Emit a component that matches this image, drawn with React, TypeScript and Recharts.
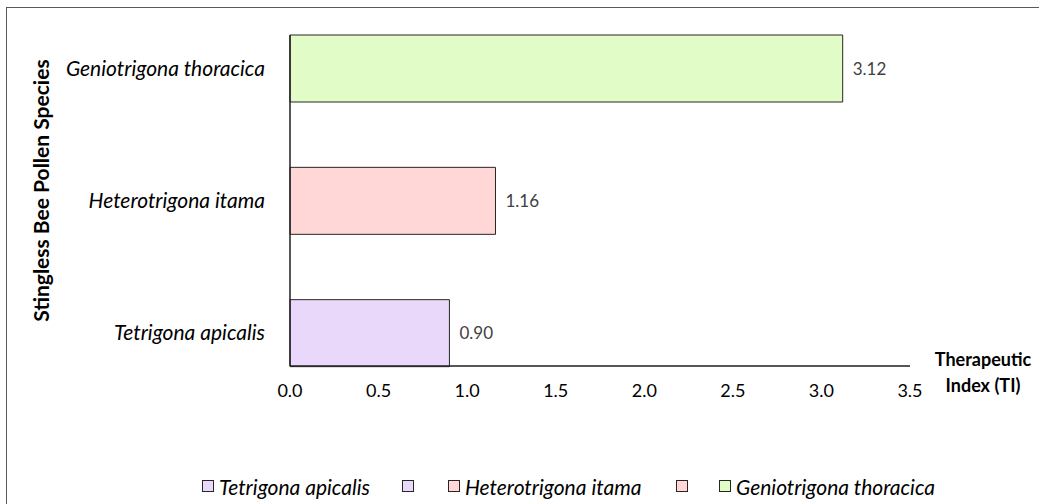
import React from "react";
import {
  BarChart,
  Bar,
  XAxis,
  YAxis,
  Cell,
  LabelList,
} from "recharts";

// bottom-to-top order, as in the picture
const species = ["Tetrigona apicalis", "Heterotrigona itama", "Geniotrigona thoracica"];
const therapeuticIndex = [0.9, 1.16, 3.12];
const barColors = ["#EAD8FB", "#FFD7D7", "#E2FCC7"];
const xTicks = [0, 0.5, 1, 1.5, 2, 2.5, 3, 3.5];

// the legend repeats swatches like the original export does
const legendItems = [
  { color: barColors[0], label: species[0], x: 202 },
  { color: barColors[0], label: "", x: 402 },
  { color: barColors[1], label: species[1], x: 448 },
  { color: barColors[1], label: "", x: 676 },
  { color: barColors[2], label: species[2], x: 719 },
];

const data = species.map((name, i) => ({ name, ti: therapeuticIndex[i] }));

const FONT = "Lato, 'Noto Sans', sans-serif";
const AXIS = "#1f1f1f";

const YTitle = ({ viewBox }: any) => {
  const x = 40;
  const y = viewBox.y + viewBox.height / 2 - 10;
  return (
    <text
      x={x}
      y={y}
      transform={`rotate(-90 ${x} ${y})`}
      textAnchor="middle"
      dominantBaseline="central"
      fontFamily={FONT}
      fontWeight={700}
      fontSize={21}
      fill="#000"
    >
      Stingless Bee Pollen Species
    </text>
  );
};

const XTitle = ({ viewBox }: any) => {
  const x = viewBox.x + viewBox.width + 73;
  const y = viewBox.y;
  return (
    <text
      x={x}
      textAnchor="middle"
      fontFamily={FONT}
      fontWeight={700}
      fontSize={18}
      fill="#000"
    >
      <tspan x={x} y={y}>Therapeutic</tspan>
      <tspan x={x} y={y + 26}>Index (TI)</tspan>
    </text>
  );
};

const App: React.FC = () => {
  return (
    <div
      style={{
        position: "absolute",
        left: 0,
        top: 0,
        width: 1039,
        height: 504,
        background: "#fff",
        fontFamily: FONT,
      }}
    >
      <div
        style={{
          position: "absolute",
          left: 6,
          top: 7,
          right: 0,
          bottom: 0,
          borderLeft: "1.5px solid #595959",
          borderTop: "1.5px solid #595959",
        }}
      />
      <BarChart
        width={1039}
        height={504}
        data={data}
        layout="vertical"
        margin={{ top: 35, right: 129, bottom: 98, left: 0 }}
        style={{ position: "absolute", left: 0, top: 0 }}
      >
        <XAxis
          type="number"
          domain={[0, 3.5]}
          ticks={xTicks}
          tickFormatter={(v: number) => v.toFixed(1)}
          tickLine={false}
          tickSize={0}
          tickMargin={18}
          height={40}
          axisLine={{ stroke: AXIS, strokeWidth: 1.5 }}
          tick={{ fill: "#000", fontSize: 18, fontFamily: FONT }}
          interval={0}
          label={<XTitle />}
        />
        <YAxis
          type="category"
          dataKey="name"
          reversed
          width={290}
          padding={{ top: -33, bottom: -33 }}
          tickLine={false}
          tickSize={0}
          tickMargin={25}
          axisLine={{ stroke: AXIS, strokeWidth: 1.5 }}
          tick={{ fill: "#000", fontSize: 21, fontFamily: FONT, fontStyle: "italic" }}
          label={<YTitle />}
        />
        <Bar
          dataKey="ti"
          barSize={67}
          stroke="#262626"
          strokeWidth={1}
          isAnimationActive={false}
        >
          {data.map((d, i) => (
            <Cell key={d.name} fill={barColors[i]} />
          ))}
          <LabelList
            dataKey="ti"
            position="right"
            offset={10}
            formatter={(v: any) => Number(v).toFixed(2)}
            style={{ fill: "#404040", fontSize: 17, fontFamily: FONT }}
          />
        </Bar>
      </BarChart>
      {legendItems.map((it, i) => (
        <div
          key={i}
          style={{
            position: "absolute",
            left: it.x,
            top: 474,
            height: 24,
            display: "flex",
            alignItems: "center",
            whiteSpace: "nowrap",
          }}
        >
          <span
            style={{
              display: "inline-block",
              width: 10,
              height: 10,
              background: it.color,
              border: "1px solid #262626",
            }}
          />
          {it.label && (
            <span
              style={{
                marginLeft: 5,
                fontStyle: "italic",
                fontSize: 21,
                color: "#000",
              }}
            >
              {it.label}
            </span>
          )}
        </div>
      ))}
    </div>
  );
};

export default App;
